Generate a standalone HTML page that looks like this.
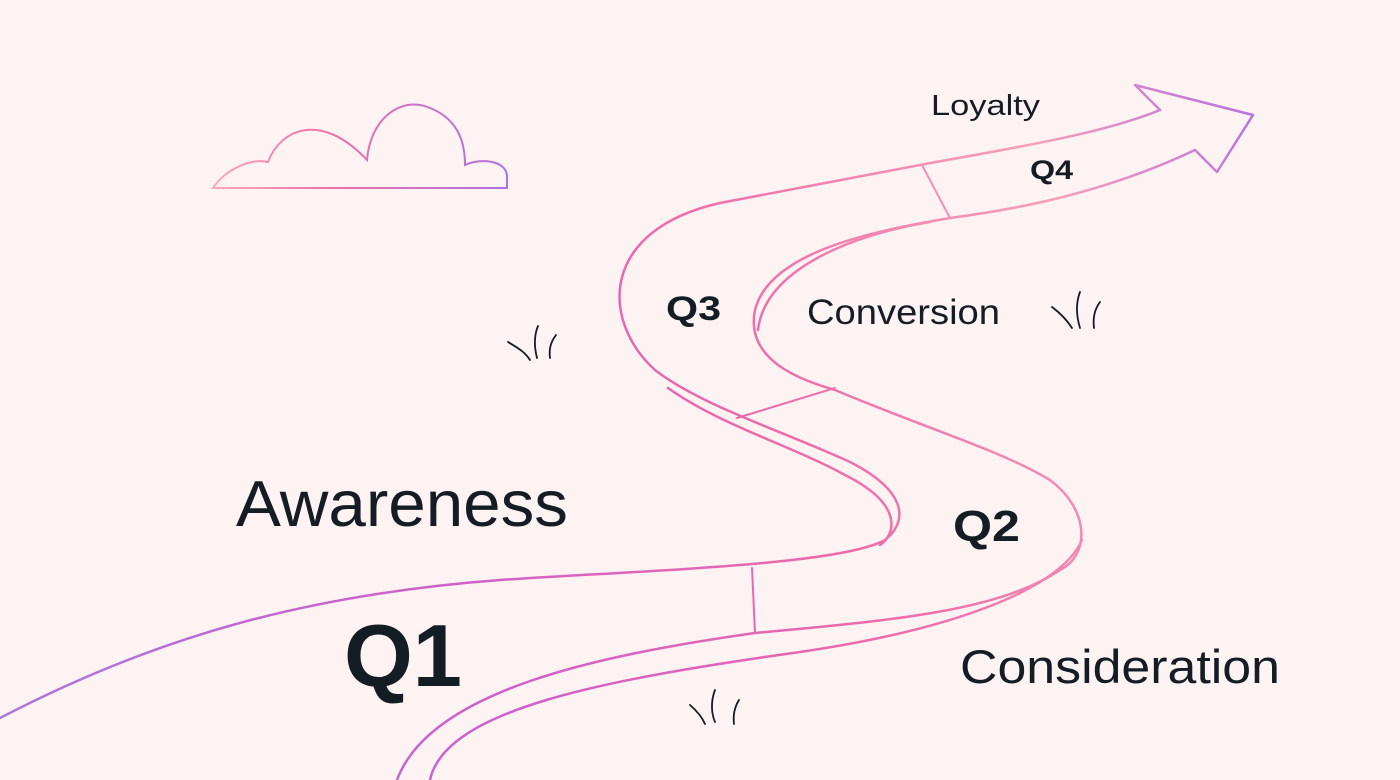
<!DOCTYPE html>
<html><head><meta charset="utf-8"><style>
html,body{margin:0;padding:0;background:#fdf3f3;}
svg{display:block}
text{font-family:"Liberation Sans",sans-serif;fill:#141c24}
</style></head><body>
<svg width="1400" height="780" viewBox="0 0 1400 780" xmlns="http://www.w3.org/2000/svg">
<defs>
<linearGradient id="g" gradientUnits="userSpaceOnUse" x1="0" y1="780" x2="1250" y2="100">
<stop offset="0" stop-color="#a876e0"/>
<stop offset="0.35" stop-color="#d060c8"/>
<stop offset="0.6" stop-color="#ee6aa8"/>
<stop offset="0.85" stop-color="#f6a0b8"/>
<stop offset="1" stop-color="#b870e0"/>
</linearGradient>
<linearGradient id="c" gradientUnits="userSpaceOnUse" x1="213" y1="0" x2="507" y2="0">
<stop offset="0" stop-color="#f8a8bc"/><stop offset="0.4" stop-color="#ee70a8"/><stop offset="1" stop-color="#b070e0"/>
</linearGradient>
</defs>
<rect width="1400" height="780" fill="#fdf3f3"/>
<g fill="none" stroke="url(#g)" stroke-width="2.5" stroke-linecap="round" stroke-linejoin="round">
<path d="M0,718 C150,640 300,595 500,580 C650,570 840,565 885,540 C910,520 905,490 850,462 C780,430 700,405 655,370 C600,320 600,230 720,203 L920,165 C1000,150 1100,135 1160,110"/>
<path d="M668,388 C720,425 790,445 845,475 C905,505 895,535 880,545"/>
<path d="M1160,110 L1135,85 L1253,115 L1217,172 L1195,150"/>
<path d="M1195,150 C1100,195 1010,210 950,218 C880,230 770,250 755,310 C745,360 800,380 835,390 C930,430 1000,450 1050,480 C1090,510 1090,555 1060,570 C1000,610 900,620 755,633 C600,655 430,690 397,780"/>
<path d="M930,222 C850,235 765,270 758,330"/>
<path d="M1082,540 C1060,590 950,630 800,652 C600,680 445,710 430,780"/>
<path d="M752,568 L755,633" stroke-width="2"/>
<path d="M737,418 L835,388" stroke-width="2"/>
<path d="M922,165 L950,218" stroke-width="2"/>
</g>
<path d="M213,188 C225,170 250,158 268,162 C280,130 320,110 367,160 C370,120 400,95 430,108 C460,120 465,145 465,165 C480,158 505,160 507,175 L507,188 Z" fill="none" stroke="url(#c)" stroke-width="2"/>
<g fill="none" stroke="#141c24" stroke-width="1.8" stroke-linecap="round">
<path d="M508,342 C518,348 525,352 530,360"/><path d="M538,326 C533,338 535,350 537,358"/><path d="M556,335 C550,343 549,350 550,358"/>
<path d="M1052,307 C1060,313 1067,320 1072,328"/><path d="M1080,292 C1075,305 1077,318 1080,328"/><path d="M1100,302 C1094,310 1093,320 1094,328"/>
<path d="M690,705 C697,711 702,717 705,724"/><path d="M715,690 C710,703 712,715 715,722"/><path d="M739,700 C734,708 733,716 734,724"/>
</g>
<text x="931" y="115" font-size="29" textLength="109" lengthAdjust="spacingAndGlyphs">Loyalty</text>
<text x="1030" y="179" font-size="27" font-weight="bold" textLength="43" lengthAdjust="spacingAndGlyphs">Q4</text>
<text x="666" y="320" font-size="34" font-weight="bold" textLength="55" lengthAdjust="spacingAndGlyphs">Q3</text>
<text x="807" y="324" font-size="35" textLength="193" lengthAdjust="spacingAndGlyphs">Conversion</text>
<text x="236" y="526" font-size="65" textLength="332" lengthAdjust="spacingAndGlyphs">Awareness</text>
<text x="953" y="541" font-size="44" font-weight="bold" textLength="67" lengthAdjust="spacingAndGlyphs">Q2</text>
<text x="344" y="686" font-size="88" font-weight="bold" textLength="118" lengthAdjust="spacingAndGlyphs">Q1</text>
<text x="960" y="683" font-size="47" textLength="320" lengthAdjust="spacingAndGlyphs">Consideration</text>
</svg>
</body></html>
